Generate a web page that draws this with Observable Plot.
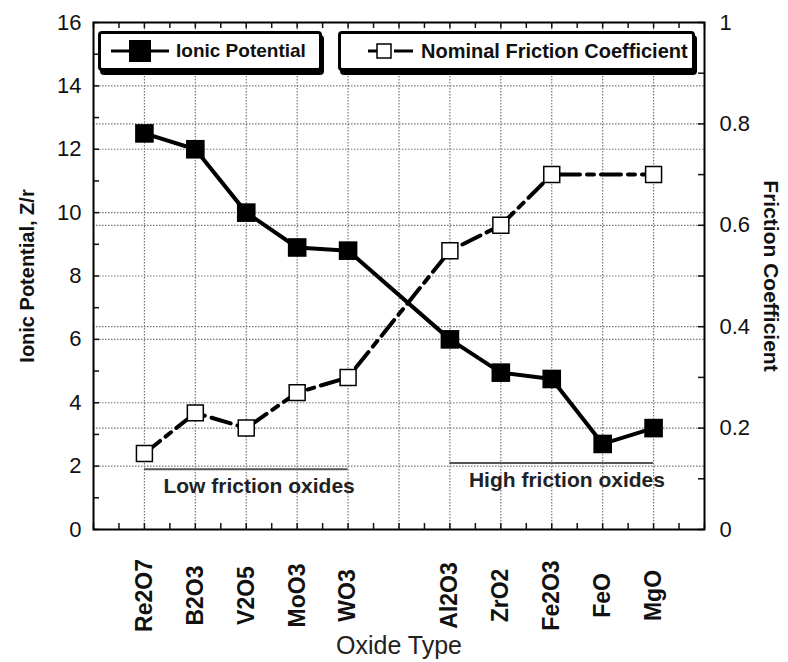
<!DOCTYPE html>
<html>
<head>
<meta charset="utf-8">
<script src="https://cdn.jsdelivr.net/npm/d3@7"></script>
<script src="https://cdn.jsdelivr.net/npm/@observablehq/plot@0.6"></script>
<style>
  html, body { margin: 0; padding: 0; background: #fff; }
  #wrap { position: relative; width: 788px; height: 662px; font-family: "Liberation Sans", Arial, sans-serif; }
  .lg { position: absolute; box-sizing: border-box; height: 40px; border: 3px solid #000; border-radius: 4px;
        box-shadow: 2px 4px 0 #000; background: #fff; overflow: hidden; white-space: nowrap;
        display: flex; align-items: center; font-weight: bold; font-size: 19px; color: #111; }
  .lg svg { flex: none; }
</style>
</head>
<body>
<div id="wrap"></div>
<script>
// ---- data ----
const xTickLabels = ["Re2O7", "B2O3", "V2O5", "MoO3", "WO3", "", "Al2O3", "ZrO2", "Fe2O3", "FeO", "MgO"];
const oxides = ["Re2O7", "B2O3", "V2O5", "MoO3", "WO3", "Al2O3", "ZrO2", "Fe2O3", "FeO", "MgO"];
const ionicPotential = [12.5, 12.0, 10.0, 8.9, 8.8, 6.0, 4.95, 4.75, 2.7, 3.2];
const frictionCoefficient = [0.15, 0.23, 0.20, 0.27, 0.30, 0.55, 0.60, 0.70, null, 0.70];
const leftTicks = [0, 2, 4, 6, 8, 10, 12, 14, 16];
const rightTicks = [0, 0.2, 0.4, 0.6, 0.8, 1];
const leftMax = 16, rightMax = 1;
const groups = [
  {label: "Low friction oxides", first: "Re2O7", last: "WO3", level: 1.9},
  {label: "High friction oxides", first: "Al2O3", last: "MgO", level: 2.1}
];

// ---- helpers ----
const pos = name => xTickLabels.indexOf(name) + 1;
const toLeft = v => v * leftMax / rightMax;
const ionicData = oxides.map((o, i) => ({oxide: o, v: ionicPotential[i]}));
const fricData = oxides.map((o, i) => ({oxide: o, v: frictionCoefficient[i]})).filter(d => d.v != null);

const mL = 93, mR = 84, mT = 22, mB = 133, W = 788, H = 662;
const fw = W - mL - mR, fh = H - mT - mB;
const grid = {stroke: "#777", strokeDasharray: "1.5,1.5", strokeWidth: 1.2, strokeOpacity: 1};
const font = "'Liberation Sans', Arial, sans-serif";

const chart = Plot.plot({
  width: W, height: H,
  marginLeft: mL, marginRight: mR, marginTop: mT, marginBottom: mB,
  style: {fontFamily: font, background: "white", color: "#111"},
  x: {domain: [0, xTickLabels.length + 1], axis: null},
  y: {domain: [0, leftMax], axis: null},
  marks: [
    // grid
    Plot.ruleX(xTickLabels.map((_, i) => i + 1), {x: d => d, ...grid}),
    Plot.ruleY(leftTicks.slice(1, -1), {y: d => d, ...grid}),
    Plot.ruleY(rightTicks.slice(1, -1).map(toLeft), {y: d => d, ...grid}),
    // inward ticks
    Plot.ruleY(d3.range(0, leftMax + 0.01, 1), {y: d => d, insetRight: fw - 6, strokeWidth: 1.5}),
    Plot.ruleY(d3.range(0, rightMax + 0.001, 0.1).map(toLeft), {y: d => d, insetLeft: fw - 6, strokeWidth: 1.5}),
    Plot.ruleX(d3.range(0, xTickLabels.length + 1.01, 0.5), {x: d => d, insetTop: fh - 6, strokeWidth: 1.5}),
    Plot.ruleX(d3.range(0, xTickLabels.length + 1.01, 0.5), {x: d => d, insetBottom: fh - 6, strokeWidth: 1.5}),
    // group annotations
    Plot.ruleY(groups, {y: "level", x1: d => pos(d.first), x2: d => pos(d.last), stroke: "#555", strokeWidth: 2}),
    Plot.text(groups, {x: d => pos(d.first), y: "level", text: "label", textAnchor: "start", dx: 19, dy: 17,
      fontSize: 21, fontWeight: "bold", fill: "#222"}),
    // series
    Plot.line(fricData, {x: d => pos(d.oxide), y: d => toLeft(d.v), stroke: "black", strokeWidth: 4,
      strokeDasharray: "20,7,7,7"}),
    Plot.line(ionicData, {x: d => pos(d.oxide), y: "v", stroke: "black", strokeWidth: 4}),
    Plot.dot(fricData, {x: d => pos(d.oxide), y: d => toLeft(d.v), symbol: "square", r: 9, fill: "white",
      stroke: "black", strokeWidth: 1.5}),
    Plot.dot(ionicData, {x: d => pos(d.oxide), y: "v", symbol: "square", r: 10.5, fill: "black"}),
    // axes labels
    Plot.axisY({anchor: "left", ticks: leftTicks, tickSize: 0, tickPadding: 12, fontSize: 22, label: null}),
    Plot.axisY({anchor: "right", ticks: rightTicks.map(toLeft), tickFormat: d => String(+(d * rightMax / leftMax).toFixed(1)),
      tickSize: 0, tickPadding: 15, fontSize: 22, label: null}),
    Plot.text(oxides, {x: d => pos(d), frameAnchor: "bottom", dy: 66, rotate: -90, text: d => d,
      textAnchor: "middle", lineAnchor: "middle", fontSize: 23, fontWeight: "bold", fill: "#111"}),
    Plot.text(["Oxide Type"], {frameAnchor: "bottom", dy: 116, text: d => d, textAnchor: "middle",
      lineAnchor: "middle", fontSize: 25, fill: "#222"}),
    Plot.text(["Ionic Potential, Z/r"], {frameAnchor: "left", dx: -66, rotate: -90, text: d => d,
      textAnchor: "middle", lineAnchor: "middle", fontSize: 20, fontWeight: "bold", fill: "#111"}),
    Plot.text(["Friction Coefficient"], {frameAnchor: "right", dx: 66, rotate: 90, text: d => d,
      textAnchor: "middle", lineAnchor: "middle", fontSize: 21, fontWeight: "bold", fill: "#111"}),
    Plot.frame({stroke: "black", strokeWidth: 2})
  ]
});

const wrap = document.getElementById("wrap");
wrap.appendChild(chart);

// legend boxes
const lg1 = document.createElement("div");
lg1.className = "lg";
lg1.style.left = "98px"; lg1.style.top = "31px"; lg1.style.width = "224px";
lg1.innerHTML = `<svg width="64" height="30" style="margin-left:6px"><line x1="4" y1="15" x2="62" y2="15" stroke="#000" stroke-width="3"/><rect x="22" y="4" width="22" height="22" fill="#000"/></svg><span style="margin-left:5px">Ionic Potential</span>`;
wrap.appendChild(lg1);

const lg2 = document.createElement("div");
lg2.className = "lg";
lg2.style.left = "338px"; lg2.style.top = "31px"; lg2.style.width = "357px";
lg2.innerHTML = `<svg width="52" height="30" style="margin-left:24px"><line x1="3" y1="15" x2="12" y2="15" stroke="#000" stroke-width="3"/><rect x="12" y="8" width="14" height="14" fill="#fff" stroke="#000" stroke-width="1.5"/><line x1="29" y1="15" x2="48" y2="15" stroke="#000" stroke-width="3"/></svg><span style="margin-left:4px;font-size:20px">Nominal Friction Coefficient</span>`;
wrap.appendChild(lg2);
</script>
</body>
</html>
